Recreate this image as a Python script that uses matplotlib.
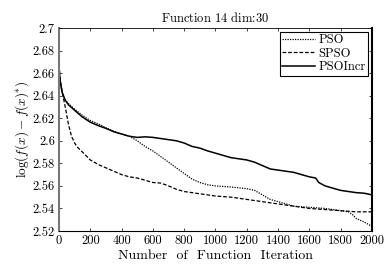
import matplotlib
matplotlib.use("Agg")
import matplotlib.pyplot as plt
from matplotlib.ticker import FixedLocator

# values
pso_it = [0, 5, 20, 40, 60, 100, 150, 200, 250, 300, 350, 400, 450, 500, 550,
          600, 650, 700, 750, 800, 850, 900, 950, 1000, 1100, 1200, 1250, 1300,
          1350, 1400, 1450, 1500, 1600, 1700, 1800, 1850, 1880, 1900, 1950, 2000]
pso_val = [2.667, 2.655, 2.643, 2.636, 2.633, 2.628, 2.6225, 2.618, 2.615, 2.6115,
           2.6085, 2.606, 2.604, 2.600, 2.595, 2.591, 2.586, 2.581, 2.576, 2.571,
           2.566, 2.563, 2.561, 2.560, 2.559, 2.5575, 2.556, 2.552, 2.548, 2.546,
           2.544, 2.542, 2.541, 2.540, 2.538, 2.537, 2.534, 2.531, 2.528, 2.524]

spso_it = [0, 10, 25, 40, 60, 80, 100, 120, 150, 200, 250, 300, 350, 400, 450,
           500, 550, 600, 650, 700, 750, 800, 850, 900, 1000, 1100, 1200, 1300,
           1400, 1500, 1600, 1700, 1800, 1900, 2000]
spso_val = [2.667, 2.652, 2.640, 2.630, 2.615, 2.604, 2.598, 2.594, 2.590, 2.583,
            2.579, 2.576, 2.573, 2.570, 2.568, 2.567, 2.565, 2.563, 2.5625, 2.560,
            2.557, 2.555, 2.554, 2.553, 2.551, 2.550, 2.548, 2.546, 2.544, 2.542,
            2.540, 2.539, 2.538, 2.537, 2.537]

incr_it = [0, 5, 20, 40, 60, 100, 150, 200, 250, 300, 350, 400, 450, 500, 550,
           600, 650, 700, 750, 800, 850, 900, 950, 1000, 1050, 1100, 1150, 1200,
           1250, 1300, 1350, 1400, 1450, 1500, 1550, 1600, 1640, 1660, 1700, 1750,
           1800, 1850, 1900, 1950, 2000]
incr_val = [2.667, 2.655, 2.643, 2.636, 2.632, 2.627, 2.621, 2.6165, 2.6135, 2.611,
            2.608, 2.606, 2.604, 2.603, 2.6035, 2.603, 2.602, 2.601, 2.600, 2.598,
            2.595, 2.5935, 2.591, 2.589, 2.587, 2.585, 2.584, 2.583, 2.581, 2.578,
            2.575, 2.574, 2.573, 2.572, 2.570, 2.568, 2.567, 2.563, 2.560, 2.558,
            2.556, 2.555, 2.554, 2.5535, 2.552]

xticks = list(range(0, 2001, 200))
yticks = [2.52, 2.54, 2.56, 2.58, 2.6, 2.62, 2.64, 2.66, 2.68, 2.7]
ytick_labels = ["2.52", "2.54", "2.56", "2.58", "2.6", "2.62", "2.64", "2.66", "2.68", "2.7"]

plt.rcParams["font.family"] = "serif"
plt.rcParams["font.serif"] = ["cmr10"]
plt.rcParams["mathtext.fontset"] = "cm"
plt.rcParams["axes.unicode_minus"] = False
plt.rcParams["font.size"] = 9

fig = plt.figure(figsize=(3.84, 2.66), dpi=100)
ax = fig.add_axes([0.1536, 0.1316, 0.8151, 0.7631])

ax.plot(pso_it, pso_val, color="black", linestyle=(0, (1, 1)), lw=0.9, label="PSO")
ax.plot(spso_it, spso_val, color="black", linestyle=(0, (3, 1.5)), lw=0.9, label="SPSO")
ax.plot(incr_it, incr_val, color="black", linestyle="-", lw=1.1, label="PSOIncr")

ax.set_xlim(0, 2000)
ax.set_ylim(2.52, 2.7)
ax.xaxis.set_major_locator(FixedLocator(xticks))
ax.set_yticks(yticks)
ax.set_yticklabels(ytick_labels)
ax.tick_params(direction="in", top=True, right=True, length=2, width=0.5, pad=3,
               labelsize=9)

ax.set_title(r"Function $\mathbf{14}$ dim:30", fontsize=9, pad=4)
ax.set_xlabel("Number  of  Function  Iteration", fontsize=10, labelpad=2)
ax.set_ylabel(r"$\log(f(x)-f(x)^{*})$", fontsize=9.5, labelpad=1)

ax.spines["left"].set_color("#777777")
ax.spines["left"].set_linewidth(1.5)
ax.spines["right"].set_linewidth(1.5)
ax.spines["top"].set_linewidth(0.6)
ax.spines["bottom"].set_linewidth(0.8)

leg = ax.legend(loc="upper right", fontsize=9, handlelength=2.6, handletextpad=0.3,
                borderpad=0.2, labelspacing=0.1, borderaxespad=0.3,
                fancybox=False, framealpha=1)
leg.get_frame().set_edgecolor("black")
leg.get_frame().set_linewidth(0.8)

fig.savefig("out.png", dpi=100)
